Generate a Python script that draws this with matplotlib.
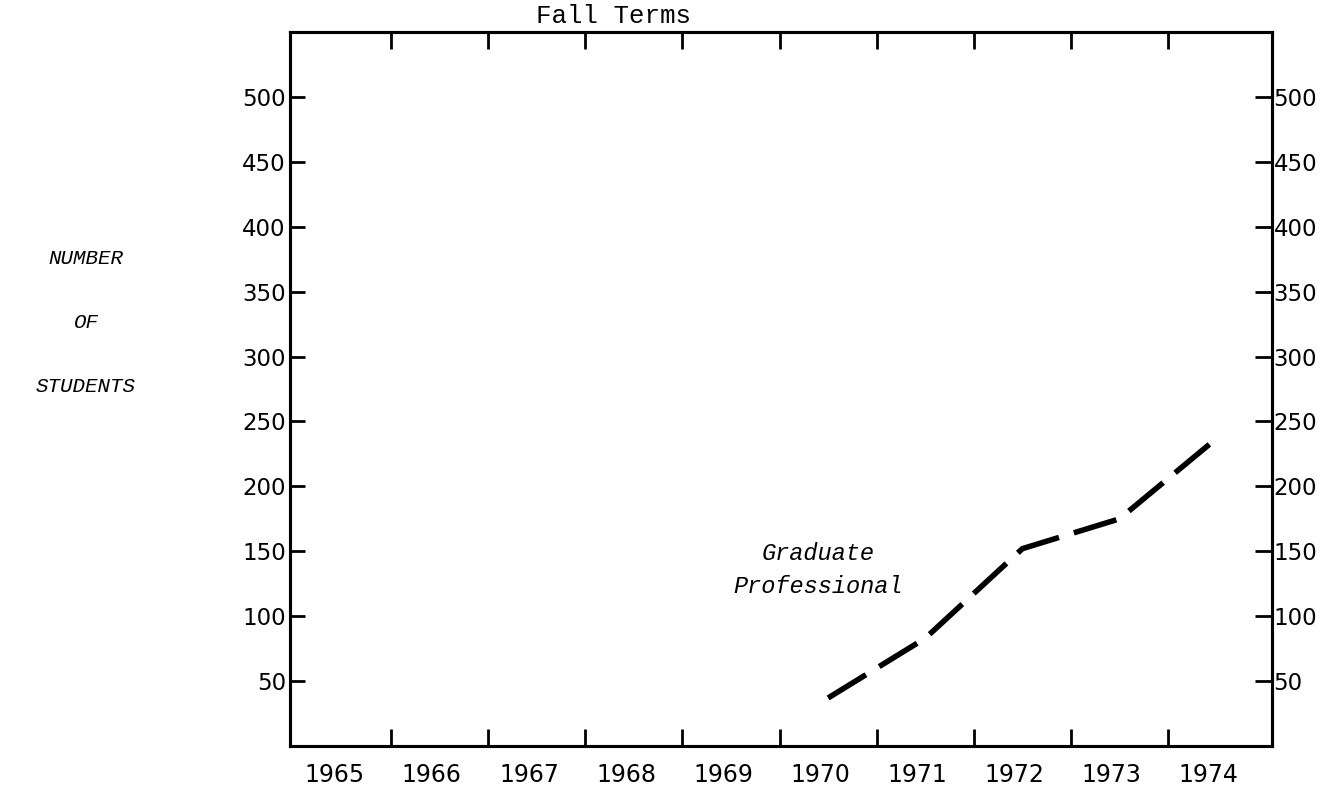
import numpy as np
import matplotlib.pyplot as plt

# Graduate Professional enrollment, fall terms
years = [1965, 1966, 1967, 1968, 1969, 1970, 1971, 1972, 1973, 1974]
grad_years = [1970, 1971, 1972, 1973, 1974]
grad_students = [37, 83, 152, 175, 237]
y_ticks = [50, 100, 150, 200, 250, 300, 350, 400, 450, 500]

W, H = 1340, 793
fig = plt.figure(figsize=(W / 100, H / 100), dpi=100)
ax = fig.add_axes([290 / W, 1 - 746 / H, (1272 - 290) / W, (746 - 32) / H])

mono_it = dict(family='Liberation Mono', style='italic')
num_font = 'DejaVu Sans'

# the hand drawn dashed line
ax.plot(grad_years, grad_students, color='black', lw=4,
        linestyle=(0, (8, 2.8)), dash_capstyle='butt', solid_joinstyle='round')

ax.set_xlim(1964.46, 1974.57)
ax.set_ylim(0, 550)

# ticks between the years, year labels centred in each slot
ax.set_xticks([y + 0.5 for y in years[:-1]])
ax.set_xticklabels([])
ax.set_xticks([y - 0.08 for y in years], minor=True)
ax.set_xticklabels([str(y) for y in years], minor=True, fontsize=17, family=num_font)
ax.tick_params(axis='x', which='major', direction='in', length=12, width=2,
               top=True, bottom=True)
ax.tick_params(axis='x', which='minor', length=0, pad=12)

ax.set_yticks(y_ticks)
ax.set_yticklabels([str(v) for v in y_ticks], fontsize=16.5, family=num_font)
ax.tick_params(axis='y', direction='in', length=11, width=2, left=True, right=False,
               pad=3)

# right side scale, labels sit right against the frame
ax2 = ax.twinx()
ax2.set_ylim(ax.get_ylim())
ax2.set_yticks(y_ticks)
ax2.set_yticklabels([str(v) for v in y_ticks], fontsize=16.5, family=num_font)
ax2.tick_params(axis='y', direction='in', length=12, width=2, pad=1)

for a in (ax, ax2):
    for s in a.spines.values():
        s.set_linewidth(2.2)

# labels
fig.text(613 / W, 1 - 16 / H, 'Fall Terms', family='Liberation Mono',
         fontsize=18.5, ha='center', va='center')
ax.text(1969.9, 148, 'Graduate', ha='center', va='center', fontsize=17, **mono_it)
ax.text(1969.9, 123, 'Professional', ha='center', va='center', fontsize=17, **mono_it)

for label, yp in [('NUMBER', 259), ('OF', 323), ('STUDENTS', 387)]:
    fig.text(86 / W, 1 - yp / H, label, ha='center', va='center',
             fontsize=15, **mono_it)

fig.savefig('out.png', dpi=100)
